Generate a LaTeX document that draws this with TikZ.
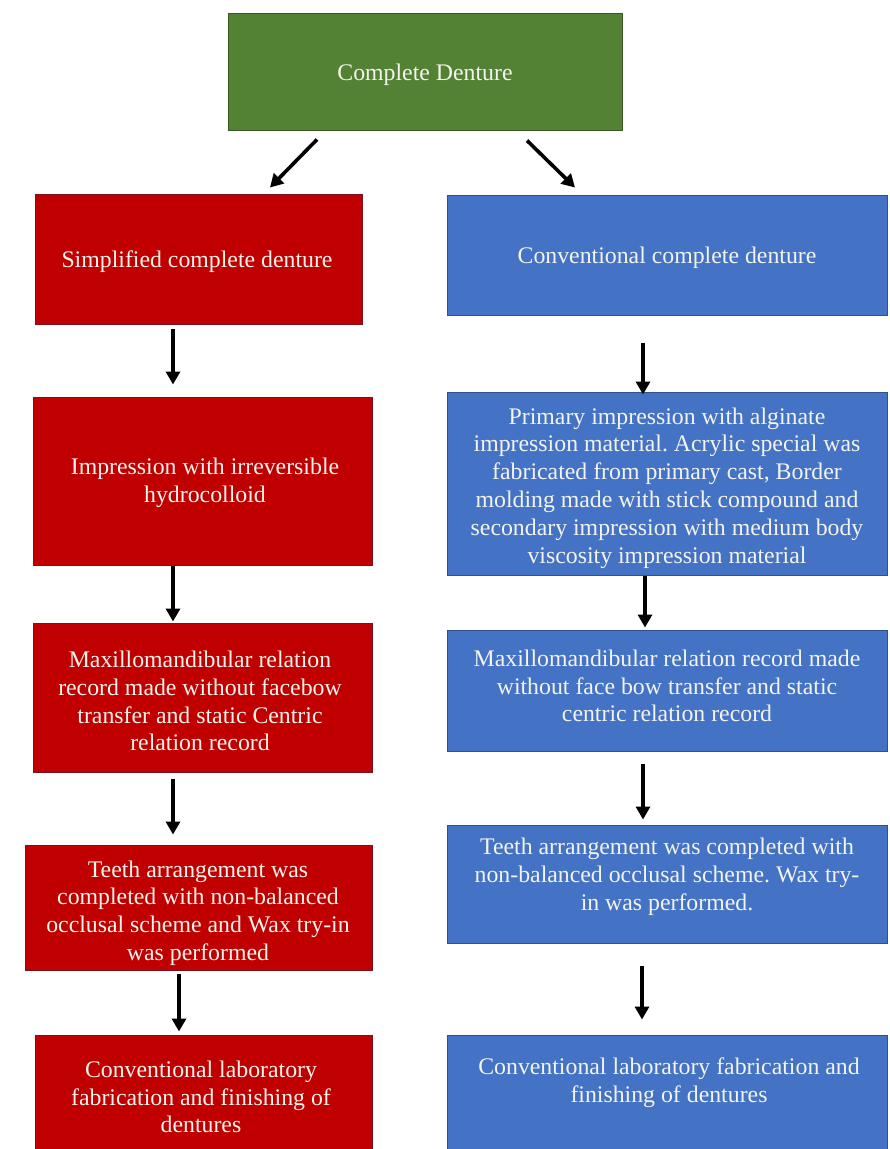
\documentclass[tikz,border=0pt]{standalone}
\usepackage{fontspec}
\setmainfont{Liberation Serif}
\usetikzlibrary{arrows.meta,calc}
\frenchspacing
\definecolor{cdgreen}{HTML}{548235}
\definecolor{cdgreenedge}{HTML}{385723}
\definecolor{cdred}{HTML}{C00000}
\definecolor{cdrededge}{HTML}{7A1020}
\definecolor{cdblue}{HTML}{4472C4}
\definecolor{cdblueedge}{HTML}{2F528F}
\definecolor{cdtext}{HTML}{F4F4EE}
\tikzset{
  box/.style={rectangle, inner sep=0pt, line width=1pt},
  gbox/.style={box, fill=cdgreen, draw=cdgreenedge},
  rbox/.style={box, fill=cdred, draw=cdrededge},
  bbox/.style={box, fill=cdblue, draw=cdblueedge},
  txt/.style={text=cdtext, align=center, inner sep=0pt,
    font=\fontsize{23.8}{27.8}\selectfont},
  arr/.style={line width=3.6pt, -{Triangle[length=13pt,width=14pt]}}
}
\begin{document}
\begin{tikzpicture}[x=1pt,y=-1pt]
\useasboundingbox (0,0) rectangle (890,1149);
% boxes
\node[gbox, minimum width=394pt, minimum height=117pt] (G) at (425,71.5) {};
\node[rbox, minimum width=327pt, minimum height=130pt] (R1) at (198.5,259) {};
\node[rbox, minimum width=339pt, minimum height=168pt] (R2) at (202.5,481) {};
\node[rbox, minimum width=339pt, minimum height=149pt] (R3) at (202.5,697.5) {};
\node[rbox, minimum width=347pt, minimum height=125pt] (R4) at (198.5,907.5) {};
\node[rbox, minimum width=337pt, minimum height=130pt] (R5) at (203.5,1100) {};
\node[bbox, minimum width=440pt, minimum height=120pt] (B1) at (667,255) {};
\node[bbox, minimum width=440pt, minimum height=183pt] (B2) at (667,483.5) {};
\node[bbox, minimum width=440pt, minimum height=121pt] (B3) at (667,690.5) {};
\node[bbox, minimum width=440pt, minimum height=118pt] (B4) at (667,884) {};
\node[bbox, minimum width=440pt, minimum height=130pt] (B5) at (667,1100) {};
% texts
\node[txt] (tG) at (425,75) {Complete Denture};
\node[txt] (tR1) at (197,262) {Simplified complete denture};
\node[txt] (tR2) at (205,483) {Impression with irreversible\\hydrocolloid};
\node[txt] (tR3) at (200,701) {Maxillomandibular relation\\record made without facebow\\transfer and static Centric\\relation record};
\node[txt] (tR4) at (198,913) {Teeth arrangement was\\completed with non-balanced\\occlusal scheme and Wax try-in\\was performed};
\node[txt] (tR5) at (201,1097) {Conventional laboratory\\fabrication and finishing of\\dentures};
\node[txt] (tB1) at (667,258) {Conventional complete denture};
\node[txt] (tB2) at (667,488) {Primary impression with alginate\\impression material. Acrylic special was\\fabricated from primary cast, Border\\molding made with stick compound and\\secondary impression with medium body\\viscosity impression material};
\node[txt] (tB3) at (667,686) {Maxillomandibular relation record made\\without face bow transfer and static\\centric relation record};
\node[txt] (tB4) at (667,877) {Teeth arrangement was completed with\\non-balanced occlusal scheme. Wax try-\\in was performed.};
\node[txt] (tB5) at (669,1083) {Conventional laboratory fabrication and\\finishing of dentures};
% arrows
\draw[arr] ($(G.south)+(-108,9)$) -- ($(R1.north)+(71.5,-6)$);
\draw[arr] ($(G.south)+(102,10)$) -- ($(B1.north)+(-92,-7)$);
\draw[arr] ($(R1.south)+(-25.5,4)$) -- ($(R2.north)+(-29.5,-12)$);
\draw[arr] ($(R2.south)+(-29.5,0)$) -- ($(R3.north)+(-29.5,-1)$);
\draw[arr] ($(R3.south)+(-29.5,6)$) -- ($(R4.north)+(-25.5,-10)$);
\draw[arr] ($(R4.south)+(-19.5,3)$) -- ($(R5.north)+(-24.5,-3)$);
\draw[arr] ($(B1.south)+(-24,27)$) -- ($(B2.north)+(-24,3)$);
\draw[arr] ($(B2.south)+(-22,0)$) -- ($(B3.north)+(-22,-2)$);
\draw[arr] ($(B3.south)+(-24,12)$) -- ($(B4.north)+(-24,-5)$);
\draw[arr] ($(B4.south)+(-25,22)$) -- ($(B5.north)+(-25,-15)$);
\end{tikzpicture}
\end{document}
